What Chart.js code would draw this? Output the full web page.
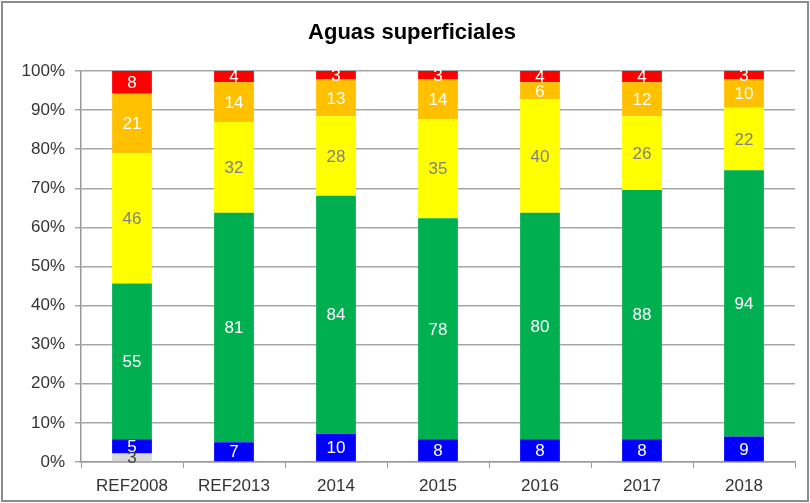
<!DOCTYPE html>
<html>
<head>
<meta charset="utf-8">
<script src="https://cdn.jsdelivr.net/npm/chart.js@4/dist/chart.umd.min.js"></script>
<style>
  html, body { margin: 0; padding: 0; background: #fff; }
  #wrap { width: 810px; height: 503px; position: relative; }
</style>
</head>
<body>
<div id="wrap"><canvas id="chart" width="810" height="503"></canvas></div>
<script>
// categories and counts per status class
const categories = ["REF2008", "REF2013", "2014", "2015", "2016", "2017", "2018"];
const grayCounts   = [3, 0, 0, 0, 0, 0, 0];
const blueCounts   = [5, 7, 10, 8, 8, 8, 9];
const greenCounts  = [55, 81, 84, 78, 80, 88, 94];
const yellowCounts = [46, 32, 28, 35, 40, 26, 22];
const orangeCounts = [21, 14, 13, 14, 6, 12, 10];
const redCounts    = [8, 4, 3, 3, 4, 4, 3];
const yTicks = [0, 10, 20, 30, 40, 50, 60, 70, 80, 90, 100];

const seriesList = [
    { counts: grayCounts,   color: "#d9d9d9", text: "#404040" },
    { counts: blueCounts,   color: "#0000ff", text: "#ffffff" },
    { counts: greenCounts,  color: "#00b050", text: "#ffffff" },
    { counts: yellowCounts, color: "#ffff00", text: "#808080" },
    { counts: orangeCounts, color: "#ffc000", text: "#ffffff" },
    { counts: redCounts,    color: "#ff0000", text: "#ffffff" }
];

// totals per category, to turn counts into 100% stacks
const totals = categories.map((c, i) => seriesList.reduce((s, d) => s + d.counts[i], 0));

const datasets = seriesList.map(d => ({
    data: d.counts.map((v, i) => v / totals[i] * 100),
    counts: d.counts,
    textColor: d.text,
    backgroundColor: d.color,
    borderWidth: 0,
    barPercentage: 0.39,
    categoryPercentage: 1.0
}));

const FONT = "'Liberation Sans', Arial, sans-serif";

// draws the count value in the middle of each segment
const segmentLabels = {
    id: "segmentLabels",
    afterDatasetsDraw(chart) {
        const ctx = chart.ctx;
        ctx.save();
        ctx.font = "17px " + FONT;
        ctx.textAlign = "center";
        ctx.textBaseline = "middle";
        chart.data.datasets.forEach((ds, di) => {
            chart.getDatasetMeta(di).data.forEach((bar, i) => {
                const n = ds.counts[i];
                if (!n) return;
                ctx.fillStyle = ds.textColor;
                ctx.fillText(String(n), bar.x, (bar.y + bar.base) / 2 + 1);
            });
        });
        ctx.restore();
    }
};

// outer frame of the chart, and title nudged right like the original
const frame = {
    id: "frame",
    afterLayout(chart) {
        if (chart.titleBlock) { chart.titleBlock.left += 19; }
    },
    beforeDraw(chart) {
        const ctx = chart.ctx;
        ctx.save();
        ctx.fillStyle = "#ffffff";
        ctx.fillRect(0, 0, chart.width, chart.height);
        ctx.strokeStyle = "#8c8c8c";
        ctx.lineWidth = 2;
        ctx.strokeRect(2, 2, chart.width - 4, chart.height - 4);
        ctx.restore();
    }
};

new Chart("chart", {
    type: "bar",
    data: { labels: categories, datasets: datasets },
    options: {
        responsive: false,
        animation: false,
        layout: { padding: { top: 10, left: 10, right: 15, bottom: 6 } },
        plugins: {
            legend: { display: false },
            tooltip: { enabled: false },
            title: {
                display: true,
                text: "Aguas superficiales",
                color: "#000000",
                font: { family: FONT, size: 22, weight: "bold" },
                padding: { top: 10, bottom: 24.6 }
            }
        },
        scales: {
            x: {
                stacked: true,
                afterFit(scale) { scale.height = 35; },
                grid: { display: true, drawOnChartArea: false, color: "#999999", tickLength: 6, offset: true },
                border: { color: "#999999", width: 1.5 },
                ticks: {
                    color: "#333333",
                    padding: 8,
                    font: { family: FONT, size: 17 }
                }
            },
            y: {
                stacked: true,
                min: 0,
                max: 100,
                afterFit(scale) { scale.width = 71; },
                afterBuildTicks(scale) { scale.ticks = yTicks.map(v => ({ value: v })); },
                grid: { color: "#a6a6a6", lineWidth: 1.5, tickLength: 6 },
                border: { color: "#999999", width: 1.5 },
                ticks: {
                    color: "#333333",
                    padding: 10,
                    font: { family: FONT, size: 17 },
                    callback: v => v + "%"
                }
            }
        }
    },
    plugins: [frame, segmentLabels]
});
</script>
</body>
</html>
